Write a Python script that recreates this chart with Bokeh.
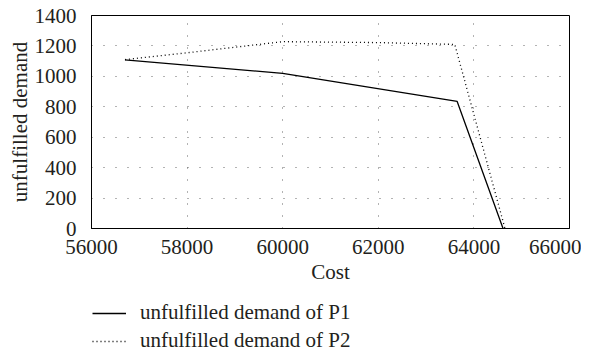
from bokeh.plotting import figure
from bokeh.layouts import column
from bokeh.models import Legend, LegendItem, FixedTicker, Range1d
from bokeh.embed import file_html
from bokeh.resources import INLINE

# Data
p1_cost = [56700, 60000, 63650, 64610]
p1_demand = [1108, 1020, 835, 0]
p2_cost = [56700, 58000, 60000, 62000, 63600, 64650]
p2_demand = [1110, 1155, 1228, 1222, 1210, 0]
x_ticks = [56000, 58000, 60000, 62000, 64000, 66000]
y_ticks = [0, 200, 400, 600, 800, 1000, 1200, 1400]
labels = ["unfulfilled demand of P1", "unfulfilled demand of P2"]

FONT = "Liberation Serif"
FS = "21px"
TXT = "#231f20"

p = figure(width=581, height=293, output_backend="svg", toolbar_location=None,
           x_range=Range1d(56000, 66000), y_range=Range1d(0, 1400),
           min_border_left=91, min_border_right=12, min_border_top=15, min_border_bottom=65)
p.outline_line_color = "black"
p.outline_line_width = 1

r1 = p.line(p1_cost, p1_demand, line_color="black", line_width=1.3)
r2 = p.line(p2_cost, p2_demand, line_color="black", line_width=1.3, line_dash="1 3")

for ax in (p.xaxis[0], p.yaxis[0]):
    ax.major_tick_line_color = None
    ax.minor_tick_line_color = None
    ax.axis_line_color = "black"
    ax.major_label_text_font = FONT
    ax.major_label_text_font_size = FS
    ax.major_label_text_color = TXT
    ax.axis_label_text_font = FONT
    ax.axis_label_text_font_size = FS
    ax.axis_label_text_font_style = "normal"
    ax.axis_label_text_color = TXT

p.xaxis.ticker = FixedTicker(ticks=x_ticks)
p.yaxis.ticker = FixedTicker(ticks=y_ticks)
p.xaxis.axis_label = "Cost"
p.yaxis.axis_label = "unfulfilled demand"
p.xaxis.major_label_standoff = 5
p.yaxis.major_label_standoff = 9
p.xaxis.axis_label_standoff = 3
p.yaxis.axis_label_standoff = 0

for g in (p.xgrid[0], p.ygrid[0]):
    g.grid_line_color = "#666666"
    g.grid_line_dash = "1 11"
    g.grid_line_width = 1
p.xgrid.ticker = FixedTicker(ticks=x_ticks)
p.ygrid.ticker = FixedTicker(ticks=y_ticks)

# legend strip below the plot (its series lie outside its visible range; only the legend shows)
lf = figure(width=581, height=60, output_backend="svg", toolbar_location=None,
            x_axis_location=None, y_axis_location=None,
            x_range=Range1d(0, 1), y_range=Range1d(0, 1),
            min_border_left=91, min_border_right=12, min_border_top=0, min_border_bottom=0)
lf.outline_line_color = None
lf.xgrid.visible = False
lf.ygrid.visible = False
l1 = lf.line(p1_cost, p1_demand, line_color="black", line_width=1.3)
l2 = lf.line(p2_cost, p2_demand, line_color="black", line_width=1.3, line_dash="1 3")

legend = Legend(items=[LegendItem(label=labels[0], renderers=[l1]),
                       LegendItem(label=labels[1], renderers=[l2])],
                location=(1, 0), padding=0, margin=0, spacing=3,
                glyph_width=34, glyph_height=20, label_height=20, label_standoff=14,
                label_text_font=FONT, label_text_font_size=FS,
                label_text_color=TXT, label_text_baseline="middle",
                border_line_color=None, background_fill_alpha=0)
lf.add_layout(legend, "center")

layout = column(p, lf, spacing=0)
open("out.html", "w").write(file_html(layout, INLINE))
